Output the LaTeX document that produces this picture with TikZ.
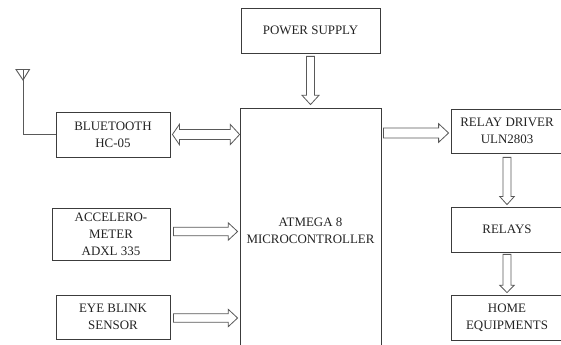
\documentclass[tikz,border=0pt]{standalone}
\usepackage{fontspec}
\setmainfont{Liberation Serif}
\usetikzlibrary{calc}
\definecolor{inkline}{HTML}{3C3C3C}
\definecolor{inktext}{HTML}{222222}
\tikzset{
  blockbox/.style={draw=inkline,line width=0.6pt,align=center,inner sep=0pt,text=inktext,
    font=\fontsize{9.7}{12.8}\selectfont},
  blockline/.style={draw=inkline!85,line width=0.6pt,line join=miter,fill=white},
  wireline/.style={draw=inkline!85,line width=0.7pt}
}
% single hollow arrow: shaft half width, head half width, head length in pt
\newcommand\blockarrow[5]{%
  \path[blockline] let \p1=($#2-#1$),\n1={veclen(\x1,\y1)},\n2={atan2(\y1,\x1)} in
   [shift={#1},rotate=\n2]
   (0pt,-#3pt)--({\n1-#5},-#3pt)--({\n1-#5},-#4pt)--(\n1,0pt)--({\n1-#5},#4pt)--({\n1-#5},#3pt)--(0pt,#3pt)--cycle;}
\newcommand\blockarrowboth[5]{%
  \path[blockline] let \p1=($#2-#1$),\n1={veclen(\x1,\y1)},\n2={atan2(\y1,\x1)} in
   [shift={#1},rotate=\n2]
   (0pt,0pt)--({#5},-#4pt)--({#5},-#3pt)--({\n1-#5},-#3pt)--({\n1-#5},-#4pt)--(\n1,0pt)
   --({\n1-#5},#4pt)--({\n1-#5},#3pt)--({#5},#3pt)--({#5},#4pt)--cycle;}
\begin{document}
\begin{tikzpicture}[x=0.75pt,y=-0.75pt]
\useasboundingbox (0,0) rectangle (561,345);
\clip (0,0) rectangle (561,345);
\node[blockbox,minimum width=139*.75pt,minimum height=45*.75pt] (power) at (310.5,30.5) {POWER SUPPLY};
\node[blockbox,minimum width=141*.75pt,minimum height=246*.75pt] (mcu) at (310.5,231) {ATMEGA 8\\MICROCONTROLLER};
\node[blockbox,minimum width=114*.75pt,minimum height=45*.75pt] (bt) at (113,134.5) {BLUETOOTH\\HC-05};
\node[blockbox,minimum width=118*.75pt,minimum height=52*.75pt] (accel) at (111,234.5) {ACCELERO-\\METER\\ADXL 335};
\node[blockbox,minimum width=114*.75pt,minimum height=44*.75pt] (eye) at (113,317) {EYE BLINK\\SENSOR};
\node[blockbox,minimum width=112*.75pt,minimum height=44*.75pt] (driver) at (507,131) {RELAY DRIVER\\ULN2803};
\node[blockbox,minimum width=112*.75pt,minimum height=45*.75pt] (relays) at (507,229.5) {RELAYS};
\node[blockbox,minimum width=112*.75pt,minimum height=45*.75pt] (home) at (507,317.5) {HOME\\EQUIPMENTS};
% antenna
\coordinate (anttip) at (23,80);
\coordinate (anttop) at (23,69.5);
\coordinate (antl) at (16,69.5);
\coordinate (antr) at (29.5,69.5);
\draw[wireline] (bt.west) -| (anttop);
\draw[wireline] (antl) -- (antr) -- (anttip) -- cycle;
% arrows
\blockarrow{($(power.south)+(0,3)$)}{($(power.south |- mcu.north)+(0,-3)$)}{3}{6.4}{7}
\blockarrowboth{($(bt.east)+(2,0)$)}{($(bt.east -| mcu.west)+(0,0)$)}{3.7}{7.6}{7}
\blockarrow{($(mcu.east |- driver.east)+(2,2)$)}{($(driver.west)+(-2,2)$)}{3.7}{7}{7.5}
\blockarrow{($(accel.east)+(3,-3)$)}{($(accel.east -| mcu.west)+(-2,-3)$)}{3.2}{6.5}{7}
\blockarrow{($(eye.east)+(3,1)$)}{($(eye.east -| mcu.west)+(-2,1)$)}{3.2}{6.5}{7}
\blockarrow{($(driver.south)+(0,4)$)}{($(relays.north)+(0,-2)$)}{3}{5.4}{6}
\blockarrow{($(relays.south)+(0,2)$)}{($(home.north)+(0,-2)$)}{3}{5.4}{5.5}
\end{tikzpicture}
\end{document}
